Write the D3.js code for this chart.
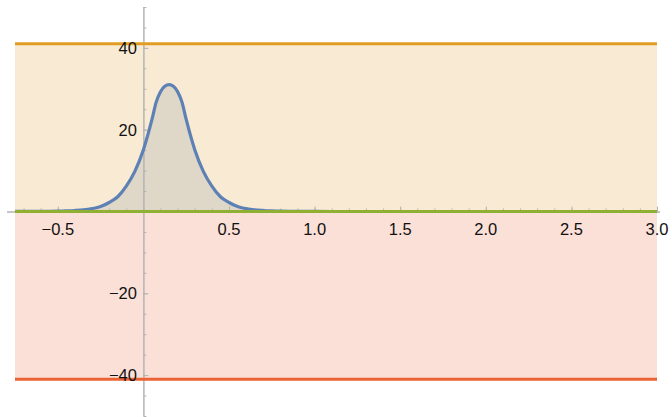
<!DOCTYPE html>
<html>
<head>
<meta charset="utf-8">
<script src="https://cdn.jsdelivr.net/npm/d3@7"></script>
<style>
  body { margin: 0; background: #fff; }
  svg { display: block; font-family: "Liberation Sans", Arial, sans-serif; }
</style>
</head>
<body>
<div id="graph"></div>
<script>
// valeurs
const curveX = [-0.75, -0.7, -0.65, -0.6, -0.55, -0.5, -0.45, -0.4, -0.35, -0.3, -0.25, -0.2, -0.15, -0.1, -0.05,
  0, 0.05, 0.075, 0.1, 0.125, 0.15, 0.175, 0.2, 0.225, 0.25, 0.3, 0.35, 0.4, 0.45, 0.5, 0.55, 0.6, 0.65, 0.7,
  0.75, 0.8, 0.9, 1.0, 1.2, 1.5, 2.0, 2.5, 3.0];
const curveY = [0.01, 0.01, 0.02, 0.03, 0.05, 0.08, 0.15, 0.25, 0.4, 0.7, 1.2, 2.2, 3.6, 6.2, 9.8,
  15.1, 22.5, 26.8, 29.3, 30.6, 31, 30.6, 29.3, 26.8, 22.5, 15.1, 9.8, 6.2, 3.6, 2.2, 1.2, 0.7, 0.4, 0.25,
  0.15, 0.08, 0.03, 0.01, 0, 0, 0, 0, 0];
const upperLevel = [41, 41];
const zeroLevel = [0, 0];
const lowerLevel = [-41, -41];
const levelX = [-0.75, 3.0];
const xTickValues = [-0.5, 0.5, 1.0, 1.5, 2.0, 2.5, 3.0];
const xTickLabels = ["\u22120.5", "0.5", "1.0", "1.5", "2.0", "2.5", "3.0"];
const yTickValues = [-40, -20, 20, 40];
const yTickLabels = ["\u221240", "\u221220", "20", "40"];

const width = 672, height = 417;
const cBlue = "#5e81b5", cOrange = "#e19c24", cGreen = "#8fb032", cRed = "#eb6235";

const svg = d3.select("#graph").append("svg")
  .attr("width", width).attr("height", height);

const x = d3.scaleLinear().domain([-0.75, 3]).range([15, 657]);
const y = d3.scaleLinear().domain([-50, 50]).range([416, 7]);

const pts = (xs, ys) => xs.map((v, i) => ({x: v, y: ys[i]}));
const curveData = pts(curveX, curveY);

const area = d3.area().x(d => x(d.x)).y0(y(0)).y1(d => y(d.y));
const line = d3.line().x(d => x(d.x)).y(d => y(d.y));

// remplissages vers l'axe
svg.append("path").datum(curveData)
  .attr("d", area.curve(d3.curveMonotoneX)).attr("fill", cBlue).attr("fill-opacity", 0.2);
area.curve(d3.curveLinear);
[[upperLevel, cOrange], [lowerLevel, cRed]].forEach(([lv, c]) => {
  svg.append("path").datum(pts(levelX, lv))
    .attr("d", area).attr("fill", c).attr("fill-opacity", 0.2);
});

// axes
const axisCol = "#b3b3b3";
const gy = svg.append("g").attr("transform", "translate(" + x(0) + ",0)");
gy.call(d3.axisRight(y).tickValues(d3.range(-50, 51, 5)).tickSize(3).tickFormat(""));
gy.append("g").call(d3.axisRight(y).tickValues(yTickValues).tickSize(5).tickFormat(""));
gy.selectAll("path.domain").attr("stroke", axisCol).attr("d", "M0.5," + y(-50) + "V" + y(50));
gy.selectAll(".tick line").attr("stroke", axisCol);

const gx = svg.append("g").attr("transform", "translate(0," + y(0) + ")");
gx.call(d3.axisTop(x).tickValues(d3.range(-7, 31).map(v => v / 10)).tickSize(3).tickFormat(""));
gx.append("g").call(d3.axisTop(x).tickValues(xTickValues).tickSize(5).tickFormat(""));
gx.selectAll("path.domain").attr("stroke", axisCol).attr("d", "M7,0.5H660");
gx.selectAll(".tick line").attr("stroke", axisCol);

// lignes (la courbe d'abord, comme dans l'original)
svg.append("path").datum(curveData)
  .attr("d", line.curve(d3.curveMonotoneX)).attr("fill", "none")
  .attr("stroke", cBlue).attr("stroke-width", 3.2).attr("stroke-linejoin", "round");
line.curve(d3.curveLinear);
[[upperLevel, cOrange], [zeroLevel, cGreen], [lowerLevel, cRed]].forEach(([lv, c]) => {
  svg.append("path").datum(pts(levelX, lv))
    .attr("d", line).attr("fill", "none").attr("stroke", c).attr("stroke-width", 3);
});

// étiquettes
svg.append("g").selectAll("text").data(xTickValues).join("text")
  .attr("x", d => x(d)).attr("y", y(0) + 23)
  .attr("text-anchor", "middle").attr("font-size", 16.5).attr("fill", "#111")
  .text((d, i) => xTickLabels[i]);
svg.append("g").selectAll("text").data(yTickValues).join("text")
  .attr("x", x(0) - 6.5).attr("y", d => y(d)).attr("dy", "0.36em")
  .attr("text-anchor", "end").attr("font-size", 16.5).attr("fill", "#111")
  .text((d, i) => yTickLabels[i]);
</script>
</body>
</html>
